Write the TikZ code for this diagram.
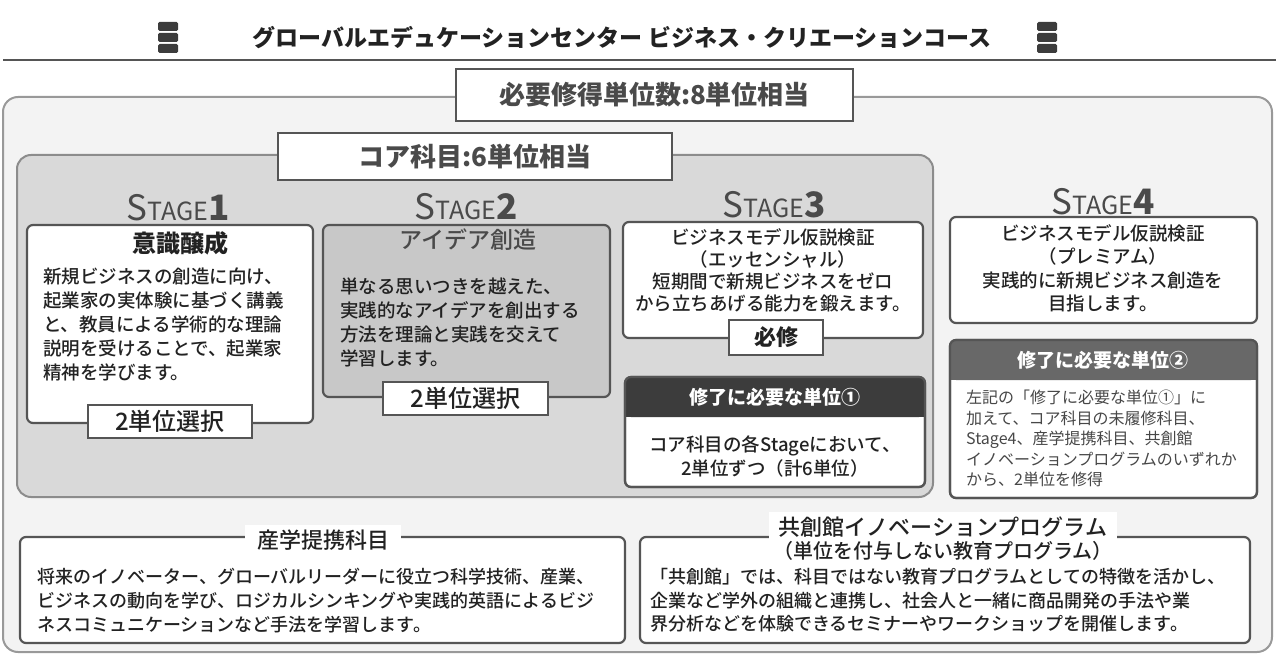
\documentclass[tikz,border=0pt]{standalone}
\usepackage{fontspec}
\setmainfont{Noto Sans CJK JP}
\newfontfamily\medfont{Noto Sans CJK JP Medium}
\usetikzlibrary{positioning}

\definecolor{linegray}{HTML}{555555}
\definecolor{outerfill}{HTML}{F3F3F3}
\definecolor{corefill}{HTML}{D9D9D9}
\definecolor{darkhead}{HTML}{3C3C3C}
\definecolor{midhead}{HTML}{686868}
\definecolor{stagegray}{HTML}{4A4A4A}
\definecolor{inktext}{HTML}{222222}

\newcommand{\setfs}[2]{\fontsize{#1}{#2}\selectfont}
\newcommand{\stagetext}[1]{{\setfs{35}{35}S}{\setfs{25}{25}TAGE}{\setfs{35}{35}\bfseries #1}}

\begin{document}
\begin{tikzpicture}[x=1pt,y=-1pt,
  box/.style={draw=linegray, line width=2.2pt, rounded corners=6pt, fill=white, inner sep=0pt, outer sep=0pt},
  tagbox/.style={draw=linegray, line width=2.2pt, fill=white, inner sep=0pt, outer sep=0pt},
  stagelbl/.style={text=stagegray, inner sep=0pt},
  body/.style={text=inktext, inner sep=0pt, font={\medfont\setfs{18.5}{24}}},
  boxtitle/.style={text=inktext, inner sep=0pt, font={\setfs{24}{24}\bfseries}}]
\useasboundingbox (0,0) rectangle (1276,655);

% header
\node[text=inktext, font={\setfs{23}{23}\bfseries}] (head) at (622,38) {グローバルエデュケーションセンター ビジネス・クリエーションコース};
\foreach \y in {22,33,44} {
  \fill[darkhead, rounded corners=1.5pt] (158,\y) rectangle +(20,9);
  \fill[darkhead, rounded corners=1.5pt] (1037,\y) rectangle +(20,9);
}
\draw[linegray, line width=2pt] (3,60) -- (1276,60);

% outer frame
\node[draw=gray!80, line width=2pt, rounded corners=15pt, fill=outerfill, minimum width=1269pt, minimum height=555pt, outer sep=0pt] (outer) at (637.5,374.5) {};
\node[tagbox, minimum width=397pt, minimum height=52pt, text=stagegray, font={\setfs{26}{26}\bfseries}] (total) at (654.5,95) {必要修得単位数:8単位相当};

% core
\node[draw=gray!90, line width=2pt, rounded corners=14pt, fill=corefill, minimum width=916pt, minimum height=342pt, outer sep=0pt] (core) at (475,326) {};
\node[tagbox, minimum width=394pt, minimum height=47pt, text=stagegray, font={\setfs{26}{26}\bfseries}] (coretitle) at (475,156.5) {コア科目:6単位相当};

% stage 1
\node[stagelbl] (st1) at (178,208) {\stagetext{1}};
\node[box, minimum width=286pt, minimum height=198pt] (s1) at (170,324) {};
\node[boxtitle] (s1title) at (180,243) {意識醸成};
\node[body, align=left, anchor=north west] (s1body) at (43,268) {新規ビジネスの創造に向け、\\起業家の実体験に基づく講義\\と、教員による学術的な理論\\説明を受けることで、起業家\\精神を学びます。};
\node[tagbox, minimum width=164pt, minimum height=33pt, font={\medfont\setfs{24}{24}}, text=inktext] (s1tag) at (170,421.5) {2単位選択};

% stage 2
\node[stagelbl] (st2) at (466,207) {\stagetext{2}};
\node[box, fill=corefill!92!black, minimum width=287pt, minimum height=172pt] (s2) at (466.5,311) {};
\node[boxtitle, text=stagegray, font={\medfont\setfs{23}{23}}] (s2title) at (468,240) {アイデア創造};
\node[body, align=left, anchor=north west] (s2body) at (340,278) {単なる思いつきを越えた、\\実践的なアイデアを創出する\\方法を理論と実践を交えて\\学習します。};
\node[tagbox, minimum width=165pt, minimum height=33pt, font={\medfont\setfs{24}{24}}, text=inktext] (s2tag) at (465.5,398.5) {2単位選択};

% stage 3
\node[stagelbl] (st3) at (774,205) {\stagetext{3}};
\node[box, minimum width=300pt, minimum height=116pt] (s3) at (773,280) {};
\node[body, align=center, anchor=north, font={\medfont\setfs{18.5}{22}}] (s3body) at (773,228) {ビジネスモデル仮説検証\\（エッセンシャル）\\短期間で新規ビジネスをゼロ\\から立ちあげる能力を鍛えます。};
\node[tagbox, minimum width=94pt, minimum height=35pt, font={\setfs{22}{22}\bfseries}, text=inktext] (s3tag) at (776,337.5) {必修};

% required 1
\node[box, minimum width=300pt, minimum height=110pt] (req1) at (775,432) {};
\fill[darkhead, rounded corners=6pt] (req1.north west) rectangle ([yshift=-40pt]req1.north east);
\fill[darkhead] ([yshift=-30pt]req1.north west) rectangle ([yshift=-40pt]req1.north east);
\draw[linegray, line width=2.2pt, rounded corners=6pt] (req1.north west) rectangle (req1.south east);
\node[text=white, font={\setfs{19}{19}\bfseries}] (req1head) at (775,397) {修了に必要な単位①};
\node[body, align=center, anchor=north] (req1body) at (775,436) {コア科目の各Stageにおいて、\\2単位ずつ（計6単位）};

% stage 4
\node[stagelbl] (st4) at (1103,202) {\stagetext{4}};
\node[box, minimum width=307pt, minimum height=106pt] (s4) at (1103.5,270) {};
\node[body, align=center, anchor=north, font={\medfont\setfs{18.5}{23.5}}] (s4body) at (1103,224) {ビジネスモデル仮説検証\\（プレミアム）\\実践的に新規ビジネス創造を\\目指します。};

% required 2
\node[box, minimum width=307pt, minimum height=158pt] (req2) at (1103.5,419) {};
\fill[midhead, rounded corners=6pt] (req2.north west) rectangle ([yshift=-40pt]req2.north east);
\fill[midhead] ([yshift=-30pt]req2.north west) rectangle ([yshift=-40pt]req2.north east);
\draw[linegray, line width=2.2pt, rounded corners=6pt] (req2.north west) rectangle (req2.south east);
\node[text=white, font={\setfs{19}{19}\bfseries}] (req2head) at (1103,360) {修了に必要な単位②};
\node[body, text=black!72, align=left, anchor=north west, font={\setfs{16}{20.5}}] (req2body) at (966,390) {左記の「修了に必要な単位①」に\\加えて、コア科目の未履修科目、\\Stage4、産学提携科目、共創館\\イノベーションプログラムのいずれか\\から、2単位を修得};

% industry courses
\node[box, minimum width=605pt, minimum height=106pt] (ind) at (322.5,590) {};
\node[text=inktext, fill=white, inner xsep=12pt, inner ysep=5pt, font={\medfont\setfs{22}{22}}] (indtitle) at (323,540) {産学提携科目};
\node[body, align=left, anchor=north west, font={\medfont\setfs{18}{24}}] (indbody) at (37,568) {将来のイノベーター、グローバルリーダーに役立つ科学技術、産業、\\ビジネスの動向を学び、ロジカルシンキングや実践的英語によるビジ\\ネスコミュニケーションなど手法を学習します。};

% innovation program
\node[box, minimum width=610pt, minimum height=106pt] (inno) at (945,590) {};
\node[text=inktext, fill=white, inner xsep=10pt, inner ysep=5pt, font={\medfont\setfs{22}{22}}] (innotitle) at (943,527) {共創館イノベーションプログラム};
\node[text=inktext, font={\medfont\setfs{20}{20}}] (innosub) at (943,551) {（単位を付与しない教育プログラム）};
\node[body, align=left, anchor=north west, font={\medfont\setfs{18}{23.5}}] (innobody) at (650,568) {「共創館」では、科目ではない教育プログラムとしての特徴を活かし、\\企業など学外の組織と連携し、社会人と一緒に商品開発の手法や業\\界分析などを体験できるセミナーやワークショップを開催します。};
\end{tikzpicture}
\end{document}
